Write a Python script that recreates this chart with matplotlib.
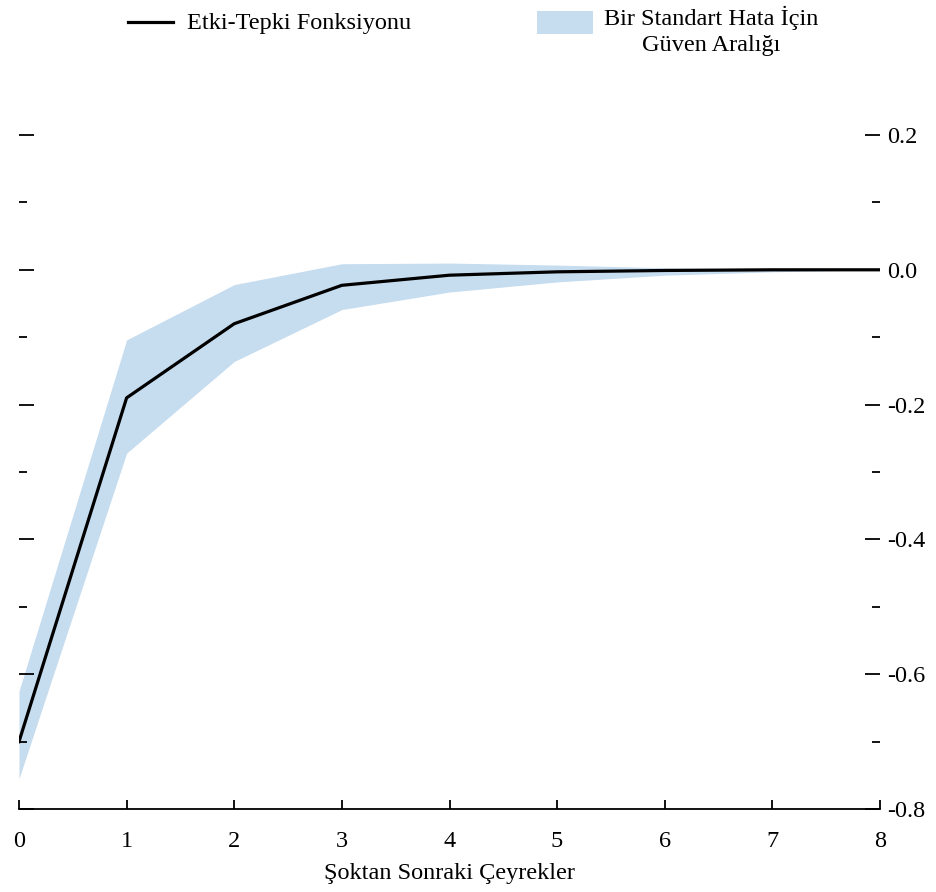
import numpy as np
import matplotlib
matplotlib.use('Agg')
import matplotlib.pyplot as plt
from matplotlib.lines import Line2D
from matplotlib.patches import Rectangle
from matplotlib.ticker import MultipleLocator

plt.rcParams['font.family'] = ['Liberation Serif', 'DejaVu Serif']

quarters = [0, 1, 2, 3, 4, 5, 6, 7, 8]
irf = [-0.700, -0.190, -0.080, -0.023, -0.008, -0.003, -0.001, 0.000, 0.000]
band_upper = [-0.625, -0.104, -0.022, 0.009, 0.010, 0.007, 0.003, 0.001, 0.000]
band_lower = [-0.755, -0.272, -0.136, -0.059, -0.033, -0.018, -0.008, -0.003, 0.000]
right_ticks = [-0.8, -0.6, -0.4, -0.2, 0.0, 0.2]
right_labels = ['-0.8', '-0.6', '-0.4', '-0.2', '0.0', '0.2']

band_color = '#c6dcef'
fs = 17.5

W, H = 936, 892
fig = plt.figure(figsize=(W / 100, H / 100), dpi=100)
ax = fig.add_axes([19 / W, 1 - 809 / H, (880 - 19) / W, (809 - 135) / H])

ax.fill_between(quarters, band_lower, band_upper, color=band_color, lw=0)
ax.plot(quarters, irf, color='black', lw=2.3)

ax.set_xlim(0, 8)
ax.set_ylim(-0.8, 0.2)

for s in ['top', 'left', 'right']:
    ax.spines[s].set_visible(False)
ax.spines['bottom'].set_linewidth(1.3)

ax.set_xticks(quarters)
ax.tick_params(axis='x', direction='in', length=6.5, width=1.3, labelsize=fs, pad=16)

# tick marks on both sides, labels only on the right
ax.yaxis.set_minor_locator(MultipleLocator(0.1))
ax.set_yticks(right_ticks)
ax.set_yticklabels(right_labels)
ax.tick_params(axis='y', which='major', direction='in', length=11, width=1.3,
               left=True, right=True, labelleft=False, labelright=True,
               labelsize=fs, pad=5)
ax.tick_params(axis='y', which='minor', direction='in', length=6, width=1.3,
               left=True, right=True)

ax.set_xlabel('Şoktan Sonraki Çeyrekler', fontsize=fs, labelpad=8)

# legend at the top
fig.add_artist(Line2D([128 / W, 173 / W], [1 - 22 / H, 1 - 22 / H],
                      color='black', lw=2.3, transform=fig.transFigure))
fig.text(187 / W, 1 - 24 / H, 'Etki-Tepki Fonksiyonu', fontsize=fs,
         va='center', ha='left')
fig.add_artist(Rectangle((537 / W, 1 - 34 / H), 56 / W, 23 / H,
                         color=band_color, lw=0, transform=fig.transFigure))
fig.text(711 / W, 1 - 31 / H, 'Bir Standart Hata İçin\nGüven Aralığı',
         fontsize=fs, va='center', ha='center', multialignment='center',
         linespacing=1.35)

fig.savefig('out.png', dpi=100)
